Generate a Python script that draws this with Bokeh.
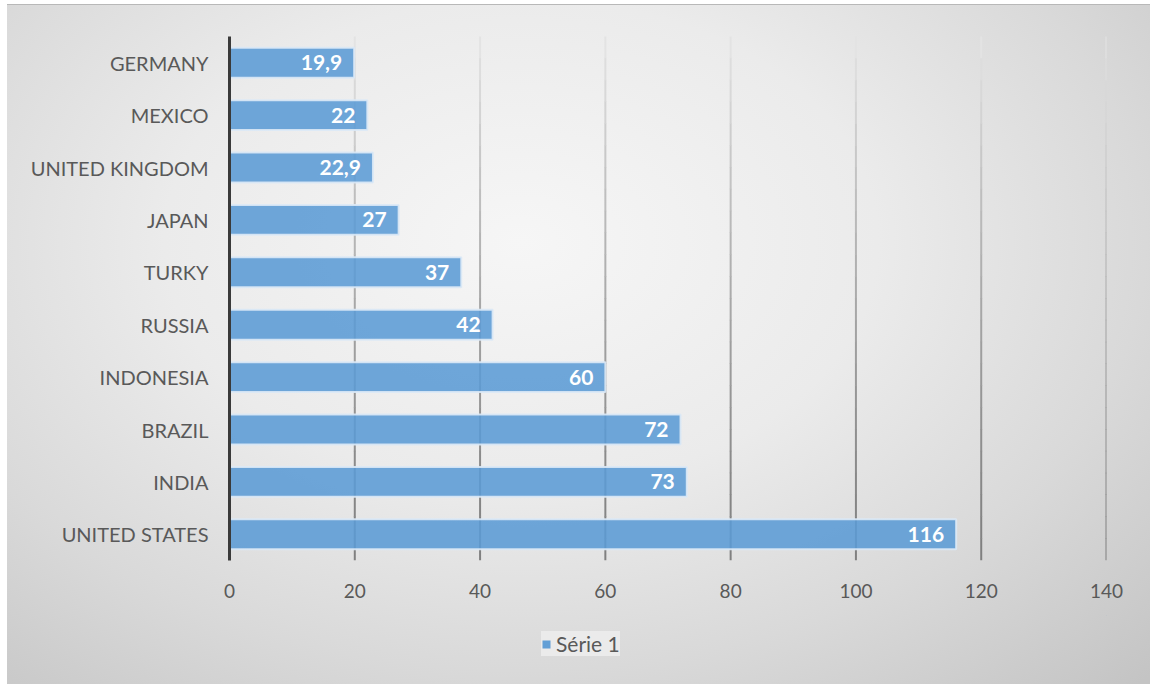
from bokeh.plotting import figure
from bokeh.layouts import column
from bokeh.models import (Range1d, FixedTicker, Legend, LegendItem,
                          ColumnDataSource)
from bokeh.core.properties import value
from bokeh.embed import file_html
from bokeh.resources import INLINE

# ---- data (bottom to top) ----
countries = ["UNITED STATES", "INDIA", "BRAZIL", "INDONESIA", "RUSSIA",
             "TURKY", "JAPAN", "UNITED KINGDOM", "MEXICO", "GERMANY"]
values_ = [116, 73, 72, 60, 42, 37, 27, 22.9, 22, 19.9]
series_name = "Série 1"
x_ticks = [0, 20, 40, 60, 80, 100, 120, 140]

labels = [(f"{v:g}").replace(".", ",") for v in values_]
pos = list(range(len(countries)))

FONT = "Lato"
W = 1143
H_MAIN, H_LEG = 610, 70
BAR_FILL, BAR_LINE = "#5b9bd5", "#dce9f6"

p = figure(width=W, height=H_MAIN, y_range=Range1d(-0.5, len(countries) - 0.5),
           x_range=Range1d(0, 140), output_backend="svg", toolbar_location=None,
           min_border_left=222, min_border_right=44, min_border_top=31,
           min_border_bottom=H_MAIN - 31 - 524)
p.border_fill_color = None
p.background_fill_color = None
p.outline_line_color = None
p.xgrid.grid_line_color = None
p.ygrid.grid_line_color = None

# gradient vertical gridlines (fade toward the top)
N = 24
lo, hi = -0.5, len(countries) - 0.5
gx0, gy0, gy1, gc = [], [], [], []
for t in x_ticks[1:]:
    for k in range(N):
        f = (k + 0.5) / N
        g = int(0x80 + (0xe6 - 0x80) * (f ** 1.3))
        gx0.append(t)
        gy0.append(lo + (hi - lo) * k / N)
        gy1.append(lo + (hi - lo) * (k + 1) / N + 0.01)
        gc.append("#%02x%02x%02x" % (g, g, g))
p.segment(x0=gx0, x1=gx0, y0=gy0, y1=gy1, color=gc, line_width=2)

src = ColumnDataSource(dict(y=pos, right=values_, lab=labels))
bars = p.hbar(y="y", right="right", left=0, height=0.57, source=src,
              fill_color=BAR_FILL, fill_alpha=0.88,
              line_color=BAR_LINE, line_width=2, line_alpha=0.9)

p.text(x="right", y="y", text="lab", source=src, text_align="right",
       text_baseline="middle", x_offset=-12, text_color="white",
       text_font=value(FONT), text_font_style="bold", text_font_size="21px")

# axes
p.xaxis.ticker = FixedTicker(ticks=x_ticks)
p.xaxis.axis_line_color = None
p.xaxis.major_tick_line_color = None
p.xaxis.minor_tick_line_color = None
p.xaxis.major_label_standoff = 17
p.xaxis.major_label_text_font = FONT
p.xaxis.major_label_text_font_size = "19px"
p.xaxis.major_label_text_color = "#595959"

p.yaxis.ticker = FixedTicker(ticks=pos)
p.yaxis.major_label_overrides = {i: c for i, c in zip(pos, countries)}
p.yaxis.axis_line_color = "#3a3a3a"
p.yaxis.axis_line_width = 3
p.yaxis.major_tick_line_color = None
p.yaxis.minor_tick_line_color = None
p.yaxis.major_label_standoff = 15
p.yaxis.major_label_text_font = FONT
p.yaxis.major_label_text_font_size = "20px"
p.yaxis.major_label_text_color = "#595959"

# legend strip below the chart
lg = figure(width=W, height=H_LEG, x_range=Range1d(0, 1), y_range=Range1d(0, 1),
            output_backend="svg", toolbar_location=None,
            x_axis_location=None, y_axis_location=None,
            min_border=0)
lg.border_fill_color = None
lg.background_fill_color = None
lg.outline_line_color = None
lg.xgrid.grid_line_color = None
lg.ygrid.grid_line_color = None
# swatch-only renderer (kept entirely outside the visible range)
dummy = lg.hbar(y=[5], right=[6], left=5, height=0.5,
                fill_color=BAR_FILL, fill_alpha=0.95,
                line_color=None)
legend = Legend(items=[LegendItem(label=series_name, renderers=[dummy])],
                location=(312, 29), orientation="horizontal",
                background_fill_color="#ececec", background_fill_alpha=0.9,
                border_line_color=None, glyph_width=10, glyph_height=10,
                label_text_font=FONT, label_text_font_size="21px",
                label_text_color="#595959", padding=10, margin=0,
                label_standoff=5)
lg.add_layout(legend, "center")

layout = column(p, lg, width=W, height=H_MAIN + H_LEG, spacing=0)
layout.margin = (4, 0, 0, 7)
layout.styles = {
    "background": "radial-gradient(ellipse 78% 90% at 45% 35%, #f6f6f6 0%, #ebebeb 40%, #d9d9d9 70%, #c4c4c4 100%)",
    "border-top": "1px solid #b8b8b8",
}

open("out.html", "w").write(file_html(layout, INLINE))
